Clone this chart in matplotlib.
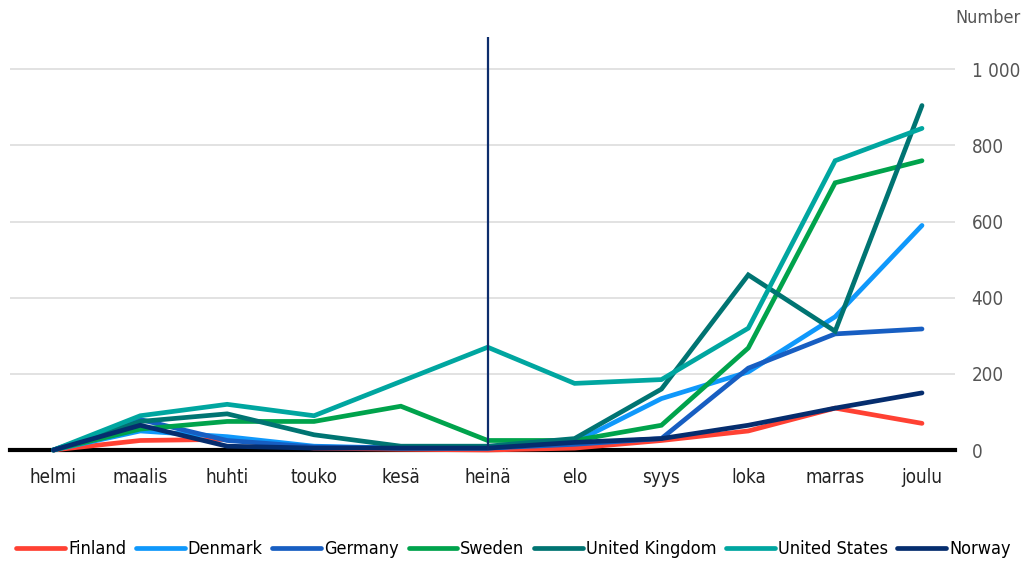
import matplotlib.pyplot as plt
from matplotlib.ticker import FuncFormatter

months = ['helmi', 'maalis', 'huhti', 'touko', 'kesä', 'heinä',
          'elo', 'syys', 'loka', 'marras', 'joulu']

finland = [0, 25, 28, 5, 2, 0, 5, 25, 50, 110, 70]
denmark = [0, 50, 35, 10, 5, 5, 20, 135, 205, 350, 590]
germany = [0, 80, 25, 8, 5, 5, 15, 30, 215, 305, 318]
sweden = [0, 55, 75, 75, 115, 25, 25, 65, 268, 702, 760]
uk = [0, 75, 95, 40, 10, 10, 30, 160, 460, 312, 905]
us = [0, 90, 120, 90, 180, 270, 175, 185, 320, 760, 845]
norway = [0, 65, 10, 5, 5, 5, 20, 30, 65, 110, 150]

series = [
    ('Finland', finland, '#ff4133'),
    ('Denmark', denmark, '#0f98fb'),
    ('Germany', germany, '#175ec2'),
    ('Sweden', sweden, '#00a34c'),
    ('United Kingdom', uk, '#007472'),
    ('United States', us, '#00a6a0'),
    ('Norway', norway, '#052d6e'),
]

yticks = [0, 200, 400, 600, 800, 1000]

plt.rcParams['font.family'] = ['DejaVu Sans']
plt.rcParams['font.stretch'] = 'condensed'

fig = plt.figure(figsize=(10.27, 5.62), dpi=100)
ax = fig.add_axes([10 / 1027, 112 / 562, 945 / 1027, 413 / 562])

x = list(range(len(months)))
for name, vals, col in series:
    ax.plot(x, vals, color=col, lw=3.4, label=name, solid_capstyle='round',
            solid_joinstyle='miter', clip_on=False, zorder=3)

# vertical marker at heinä
ax.axvline(5, color='#0d2d6c', lw=1.6, zorder=4)

ax.set_xlim(-0.5, 10.38)
ax.set_ylim(0, 1085)
ax.set_xticks(x)
ax.set_xticklabels(months)
ax.set_yticks(yticks)
ax.yaxis.set_major_formatter(FuncFormatter(lambda v, p: f'{int(v):,}'.replace(',', ' ')))
ax.yaxis.tick_right()
ax.tick_params(axis='y', length=0, pad=12, labelsize=13.5, labelcolor='#555555')
ax.tick_params(axis='x', length=0, pad=13, labelsize=13.5, labelcolor='#222222')
ax.grid(axis='y', color='#dddddd', lw=1.2)
ax.set_axisbelow(True)
for s in ['top', 'right', 'left']:
    ax.spines[s].set_visible(False)
ax.spines['bottom'].set_color('black')
ax.spines['bottom'].set_linewidth(3)
ax.spines['bottom'].set_zorder(2)

fig.text(988 / 1027, 1 - 18 / 562, 'Number', ha='center', va='center',
         fontsize=13, color='#555555')

leg = fig.legend(loc='center', bbox_to_anchor=(0.5, 1 - 549 / 562), ncol=7,
                 frameon=False, fontsize=13, handlelength=2.7,
                 handletextpad=0.15, columnspacing=0.55)

fig.savefig('out.png', dpi=100)
